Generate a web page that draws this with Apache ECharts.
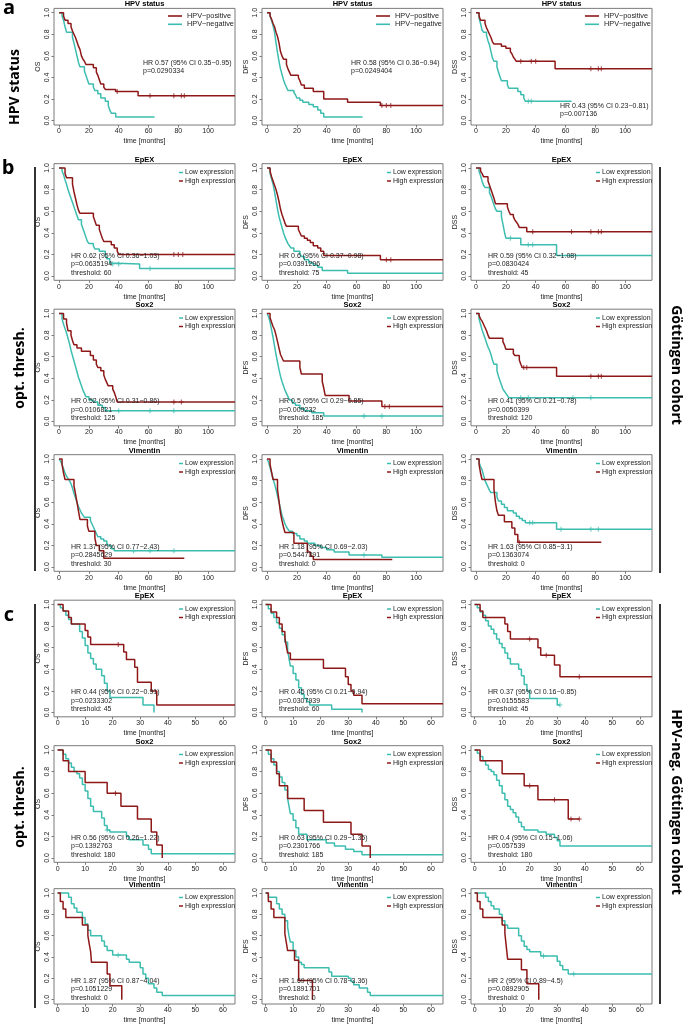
<!DOCTYPE html>
<html><head><meta charset="utf-8">
<script src="https://cdn.jsdelivr.net/npm/echarts@6/dist/echarts.min.js"></script>
<style>html,body{margin:0;padding:0;background:#fff}#c{width:685px;height:1025px}</style>
</head><body><div id="c"></div>
<script>
// ---------- tick labels / categories ----------
const xTicksLong = [0, 20, 40, 60, 80, 100];
const xTicksShort = [0, 10, 20, 30, 40, 50, 60];
const yTicks = [0, 0.2, 0.4, 0.6, 0.8, 1.0];
const endpoints = ['OS', 'DFS', 'DSS'];
const rowTitles = ['HPV status', 'EpEX', 'Sox2', 'Vimentin', 'EpEX', 'Sox2', 'Vimentin'];
const legendA = ['HPV\u2212positive', 'HPV\u2212negative'];
const legendExpr = ['Low expression', 'High expression'];

// ---------- a: HPV status (red = HPV-positive, teal = HPV-negative) ----------
const aOS_pos = [[0,1],[3,0.97],[4,0.93],[6,0.9],[8,0.87],[9,0.83],[10,0.8],[11,0.77],[12,0.73],[13,0.69],[14,0.66],[15,0.6],[16,0.57],[17,0.55],[18,0.52],[23,0.49],[25,0.45],[26,0.42],[27,0.38],[28,0.34],[30,0.31],[31,0.29],[38,0.27],[53,0.23],[118,0.23]];
const aOS_neg = [[0,1],[2,0.97],[3,0.93],[4,0.87],[5,0.82],[9,0.77],[10,0.72],[11,0.66],[12,0.6],[13,0.54],[14,0.5],[17,0.46],[18,0.42],[19,0.38],[20,0.34],[23,0.31],[24,0.28],[26,0.25],[28,0.21],[31,0.18],[33,0.14],[34,0.1],[35,0.07],[38,0.035],[64,0.035]];
const aDFS_pos = [[0,1],[2,0.97],[3,0.94],[4,0.9],[5,0.87],[6,0.82],[7,0.78],[8,0.72],[9,0.64],[10,0.6],[11,0.57],[13,0.52],[14,0.48],[15,0.45],[16,0.42],[21,0.4],[22,0.37],[23,0.33],[25,0.3],[31,0.27],[38,0.2],[54,0.17],[76,0.14],[118,0.14]];
const aDFS_neg = [[0,1],[2,0.97],[3,0.93],[4,0.88],[5,0.82],[6,0.72],[7,0.63],[8,0.55],[9,0.48],[10,0.43],[11,0.38],[12,0.34],[13,0.31],[14,0.28],[18,0.26],[19,0.24],[20,0.21],[22,0.19],[24,0.17],[28,0.15],[31,0.13],[34,0.1],[36,0.07],[38,0.035],[64,0.035]];
const aDSS_pos = [[0,1],[2,0.97],[3,0.93],[6,0.9],[7,0.86],[8,0.83],[9,0.8],[10,0.77],[11,0.73],[12,0.71],[17,0.69],[20,0.67],[23,0.64],[24,0.62],[25,0.59],[26,0.57],[27,0.55],[53,0.48],[118,0.48]];
const aDSS_neg = [[0,1],[2,0.95],[3,0.9],[4,0.84],[5,0.82],[7,0.79],[8,0.74],[9,0.7],[10,0.64],[11,0.58],[12,0.55],[14,0.5],[15,0.45],[16,0.41],[17,0.37],[21,0.33],[22,0.3],[28,0.27],[30,0.24],[32,0.21],[33,0.18],[64,0.18]];
const aOS_posCens = [39, 61, 77, 82, 84];
const aDFS_posCens = [77, 80, 83];
const aDSS_posCens = [30, 37, 40, 77, 82, 84];
const aDSS_negCens = [35, 37];

// ---------- b: Göttingen cohort, optimal thresholds (low = teal, high = red) ----------
const b1OS_low = [[0,1],[2,0.97],[3,0.94],[4,0.89],[5,0.85],[6,0.8],[7,0.76],[8,0.72],[9,0.68],[10,0.64],[11,0.6],[12,0.56],[13,0.52],[15,0.48],[16,0.44],[17,0.4],[18,0.36],[19,0.32],[20,0.3],[23,0.28],[24,0.25],[27,0.23],[31,0.2],[32,0.16],[34,0.12],[35,0.11],[54,0.07],[118,0.07]];
const b1OS_high = [[0,1],[4,0.95],[5,0.91],[9,0.85],[10,0.78],[11,0.72],[12,0.66],[13,0.61],[14,0.58],[23,0.55],[24,0.51],[25,0.47],[27,0.43],[28,0.39],[29,0.35],[30,0.32],[35,0.29],[37,0.26],[39,0.23],[40,0.2],[118,0.2]];
const b1DFS_low = [[0,1],[2,0.95],[3,0.9],[4,0.85],[5,0.78],[6,0.7],[7,0.62],[8,0.55],[9,0.5],[10,0.45],[11,0.4],[12,0.36],[13,0.33],[14,0.3],[15,0.28],[16,0.26],[18,0.23],[22,0.21],[23,0.18],[25,0.15],[28,0.12],[31,0.1],[34,0.08],[37,0.05],[54,0.025],[118,0.025]];
const b1DFS_high = [[0,1],[2,0.97],[3,0.92],[4,0.88],[5,0.84],[6,0.8],[7,0.75],[8,0.69],[9,0.62],[10,0.57],[11,0.53],[12,0.49],[13,0.46],[21,0.43],[22,0.4],[23,0.37],[25,0.35],[27,0.33],[29,0.31],[31,0.28],[34,0.26],[36,0.23],[38,0.19],[76,0.15],[118,0.15]];
const b1DSS_low = [[0,1],[2,0.97],[3,0.93],[4,0.88],[5,0.84],[6,0.82],[9,0.77],[10,0.74],[11,0.7],[12,0.66],[13,0.62],[14,0.6],[17,0.55],[18,0.48],[19,0.41],[20,0.35],[30,0.29],[54,0.19],[118,0.19]];
const b1DSS_high = [[0,1],[3,0.97],[4,0.95],[5,0.92],[8,0.88],[9,0.84],[10,0.8],[11,0.76],[12,0.72],[13,0.67],[21,0.64],[22,0.6],[23,0.57],[25,0.55],[26,0.52],[27,0.5],[28,0.48],[29,0.45],[34,0.41],[118,0.41]];
const b1OS_lowCens = [36, 40, 61];
const b1OS_highCens = [77, 80, 83];
const b1DFS_highCens = [80, 83];
const b1DSS_lowCens = [23, 35, 38];
const b1DSS_highCens = [38, 64, 77, 82, 84];

const b2OS_low = [[0,1],[2,0.95],[3,0.9],[4,0.86],[5,0.82],[6,0.77],[7,0.72],[8,0.66],[9,0.61],[10,0.56],[11,0.51],[12,0.46],[13,0.41],[14,0.37],[15,0.33],[16,0.29],[17,0.26],[18,0.23],[20,0.2],[23,0.18],[26,0.15],[29,0.13],[31,0.1],[118,0.1]];
const b2OS_high = [[0,1],[3,0.95],[5,0.91],[6,0.84],[8,0.8],[9,0.75],[10,0.71],[12,0.68],[15,0.65],[21,0.61],[23,0.57],[25,0.53],[26,0.5],[28,0.47],[30,0.43],[31,0.39],[32,0.36],[33,0.33],[36,0.3],[37,0.27],[38,0.23],[39,0.18],[118,0.18]];
const b2DFS_low = [[0,1],[1,0.97],[2,0.92],[3,0.85],[4,0.78],[5,0.7],[6,0.62],[7,0.55],[8,0.48],[9,0.42],[10,0.37],[11,0.33],[12,0.29],[13,0.26],[14,0.23],[15,0.2],[17,0.17],[19,0.15],[22,0.12],[25,0.1],[30,0.08],[38,0.05],[118,0.05]];
const b2DFS_high = [[0,1],[2,0.96],[3,0.92],[4,0.88],[5,0.85],[6,0.8],[7,0.74],[8,0.68],[9,0.62],[10,0.59],[11,0.56],[22,0.5],[23,0.44],[37,0.37],[38,0.31],[39,0.24],[55,0.19],[77,0.14],[118,0.14]];
const b2DSS_low = [[0,1],[2,0.95],[3,0.9],[4,0.85],[5,0.81],[6,0.77],[7,0.73],[8,0.69],[9,0.66],[10,0.62],[11,0.57],[12,0.53],[14,0.47],[15,0.42],[16,0.38],[17,0.34],[18,0.3],[19,0.28],[20,0.26],[21,0.24],[22,0.22],[118,0.22]];
const b2DSS_high = [[0,1],[2,0.98],[3,0.95],[4,0.93],[5,0.9],[6,0.87],[7,0.84],[8,0.8],[9,0.77],[18,0.74],[19,0.71],[20,0.67],[25,0.63],[26,0.61],[29,0.57],[30,0.53],[31,0.5],[54,0.42],[118,0.42]];
const b2OS_lowCens = [40, 61, 77];
const b2OS_highCens = [77, 82];
const b2DFS_lowCens = [65, 77];
const b2DFS_highCens = [79, 82];
const b2DSS_lowCens = [30, 35, 65, 77];
const b2DSS_highCens = [32, 34, 77, 82, 84];

const b3OS_low = [[0,1],[1,0.98],[2,0.95],[3,0.91],[4,0.87],[5,0.84],[6,0.82],[7,0.8],[8,0.77],[9,0.73],[10,0.68],[11,0.64],[12,0.6],[13,0.56],[14,0.53],[15,0.5],[16,0.48],[17,0.46],[21,0.43],[22,0.4],[23,0.37],[24,0.34],[25,0.31],[26,0.28],[28,0.26],[30,0.24],[32,0.22],[33,0.2],[35,0.17],[37,0.15],[118,0.15]];
const b3OS_high = [[0,1],[2,0.95],[3,0.87],[4,0.81],[10,0.75],[11,0.68],[12,0.6],[13,0.52],[14,0.44],[19,0.38],[20,0.33],[24,0.27],[25,0.2],[27,0.15],[30,0.08],[84,0.08]];
const b3DFS_low = [[0,1],[1,0.97],[2,0.92],[3,0.87],[4,0.82],[5,0.77],[6,0.72],[7,0.66],[8,0.6],[9,0.54],[10,0.48],[11,0.44],[12,0.4],[13,0.37],[14,0.35],[15,0.33],[17,0.31],[20,0.29],[22,0.26],[25,0.24],[27,0.22],[32,0.2],[36,0.18],[40,0.16],[45,0.14],[55,0.11],[77,0.09],[118,0.09]];
const b3DFS_high = [[0,1],[2,0.95],[3,0.88],[4,0.81],[7,0.72],[8,0.61],[9,0.5],[10,0.43],[11,0.37],[12,0.32],[18,0.22],[27,0.14],[29,0.1],[31,0.07],[84,0.07]];
const b3DSS_low = [[0,1],[2,0.97],[3,0.93],[4,0.9],[5,0.85],[6,0.8],[7,0.77],[8,0.74],[9,0.71],[10,0.69],[14,0.65],[15,0.61],[17,0.58],[19,0.55],[21,0.52],[25,0.5],[27,0.47],[29,0.45],[31,0.43],[33,0.41],[54,0.35],[118,0.35]];
const b3DSS_high = [[0,1],[2,0.95],[3,0.87],[4,0.81],[12,0.72],[13,0.6],[14,0.52],[15,0.48],[19,0.42],[24,0.36],[26,0.3],[28,0.23],[84,0.23]];
const b3OS_lowCens = [50, 61, 77];
const b3DFS_lowCens = [65];
const b3DSS_lowCens = [36, 38, 57, 77, 82];
const b3DSS_highCens = [29];

// ---------- c: HPV-negative Göttingen cohort, optimal thresholds ----------
const c1OS_low = [[0,1],[1,0.97],[2,0.94],[3,0.9],[4,0.86],[5,0.82],[8,0.75],[9,0.69],[10,0.62],[11,0.55],[12,0.5],[13,0.45],[14,0.4],[16,0.34],[17,0.27],[18,0.2],[19,0.14],[31,0.07],[35,0]];
const c1OS_high = [[0,1],[2,0.94],[4,0.88],[5,0.82],[10,0.76],[11,0.7],[12,0.63],[24,0.56],[25,0.49],[28,0.42],[29,0.28],[34,0.2],[36,0.07],[64.4,0.07]];
const c1DFS_low = [[0,1],[1,0.96],[2,0.92],[3,0.88],[4,0.83],[5,0.78],[6,0.72],[7,0.65],[8,0.58],[8.5,0.5],[9,0.43],[10,0.36],[11,0.3],[12,0.23],[13,0.17],[14,0.13],[15,0.1],[16,0.07],[24,0.03],[35,0]];
const c1DFS_high = [[0,1],[2,0.93],[4,0.88],[5,0.82],[6,0.75],[7,0.69],[7.5,0.62],[8,0.55],[9,0.49],[21,0.41],[29,0.33],[30,0.26],[31,0.2],[32,0.16],[35,0.08],[64.4,0.08]];
const c1DSS_low = [[0,1],[1,0.97],[2,0.93],[3,0.9],[4,0.85],[5,0.8],[6,0.77],[7,0.73],[8,0.68],[9,0.64],[10,0.6],[11,0.55],[12,0.5],[13,0.45],[16,0.4],[17,0.34],[18,0.26],[19,0.2],[20,0.13],[30,0.07],[31,0.07]];
const c1DSS_high = [[0,1],[2,0.94],[3,0.88],[11,0.82],[12,0.75],[13,0.68],[23,0.6],[24,0.53],[29,0.44],[31,0.33],[64.4,0.33]];
const c1OS_highCens = [22];
const c1DSS_lowCens = [31];
const c1DSS_highCens = [20, 26, 38];

const c2OS_low = [[0,1],[2,0.96],[3,0.92],[4,0.88],[5,0.84],[6,0.8],[7,0.78],[8,0.74],[9,0.68],[10,0.62],[11,0.55],[12,0.48],[13,0.43],[16,0.37],[17,0.3],[18,0.26],[19,0.24],[25,0.2],[26,0.17],[31,0.12],[33,0.08],[34,0.04],[64.4,0.04]];
const c2OS_high = [[0,1],[2,0.9],[4,0.8],[10,0.7],[18,0.6],[23,0.48],[29,0.36],[34,0.24],[36,0.12],[38,0]];
const c2DFS_low = [[0,1],[1,0.96],[2,0.92],[3,0.86],[4,0.8],[5,0.75],[6,0.7],[7,0.63],[8,0.55],[8.5,0.48],[9,0.41],[10,0.35],[11,0.28],[12,0.22],[15,0.17],[22,0.14],[25,0.11],[29,0.08],[32,0.06],[35,0.03],[64.4,0.03]];
const c2DFS_high = [[0,1],[2,0.89],[4,0.78],[5,0.67],[8,0.55],[14,0.44],[21,0.33],[31,0.22],[35,0.11],[38,0]];
const c2DSS_low = [[0,1],[1,0.97],[2,0.94],[3,0.9],[4,0.86],[5,0.82],[6,0.8],[7,0.77],[8,0.72],[9,0.67],[10,0.6],[11,0.54],[12,0.48],[13,0.45],[14,0.42],[15,0.38],[16,0.33],[17,0.29],[18,0.26],[23,0.24],[26,0.22],[29,0.19],[30,0.16],[31,0.11],[64.4,0.11]];
const c2DSS_high = [[0,1],[2,0.9],[10,0.78],[18,0.67],[23,0.54],[34,0.36],[38,0.36]];
const c2OS_lowCens = [18];
const c2OS_highCens = [21];
const c2DSS_highCens = [20, 29, 35, 38];

const c3OS_low = [[0,1],[4,0.96],[5,0.9],[6,0.86],[7,0.82],[9,0.77],[10,0.71],[11,0.65],[12,0.6],[16,0.55],[17,0.5],[18,0.46],[20,0.42],[25,0.38],[26,0.35],[30,0.3],[31,0.24],[32,0.2],[33,0.15],[35,0.11],[36,0.07],[38,0.04],[64.4,0.04]];
const c3OS_high = [[0,1],[1,0.92],[2,0.85],[3,0.77],[9,0.7],[11,0.6],[11.5,0.52],[12,0.45],[12.3,0.35],[18,0.24],[19,0.13],[23.3,0]];
const c3DFS_low = [[0,1],[1,0.96],[4,0.9],[5,0.85],[6,0.8],[7,0.74],[8,0.68],[8.5,0.6],[9,0.54],[10,0.46],[11,0.4],[12,0.35],[13,0.33],[14,0.3],[23,0.26],[24,0.22],[30,0.2],[31,0.17],[32,0.14],[34,0.11],[37,0.07],[38,0.04],[64.4,0.04]];
const c3DFS_high = [[0,1],[1,0.92],[2,0.85],[3,0.77],[7,0.62],[7.5,0.54],[8,0.46],[10.5,0.37],[12,0.18],[17,0]];
const c3DSS_low = [[0,1],[4,0.96],[5,0.92],[6,0.88],[7,0.85],[9,0.8],[10,0.74],[11,0.7],[12,0.67],[16,0.6],[17,0.55],[18,0.5],[19,0.47],[20,0.45],[24,0.41],[30,0.36],[31,0.32],[32,0.28],[34,0.24],[64.4,0.24]];
const c3DSS_high = [[0,1],[1,0.92],[2,0.85],[3,0.77],[10,0.7],[11,0.62],[11.5,0.5],[12,0.38],[17,0.28],[19,0.15],[23.3,0]];
const c3OS_lowCens = [22];
const c3DSS_lowCens = [25, 36];

// ---------- statistics text ----------
const hrA = [['HR 0.57 (95% CI 0.35\u22120.95)','p=0.0290334'],['HR 0.58 (95% CI 0.36\u22120.94)','p=0.0249404'],['HR 0.43 (95% CI 0.23\u22120.81)','p=0.007136']];
const hrB1 = [['HR 0.62 (95% CI 0.36\u22121.03)','p=0.0635194','threshold: 60'],['HR 0.6 (95% CI 0.37\u22120.98)','p=0.0391296','threshold: 75'],['HR 0.59 (95% CI 0.32\u22121.08)','p=0.0830424','threshold: 45']];
const hrB2 = [['HR 0.52 (95% CI 0.31\u22120.86)','p=0.0106821','threshold: 125'],['HR 0.5 (95% CI 0.29\u22120.85)','p=0.009232','threshold: 185'],['HR 0.41 (95% CI 0.21\u22120.78)','p=0.0050399','threshold: 120']];
const hrB3 = [['HR 1.37 (95% CI 0.77\u22122.43)','p=0.2845629','threshold: 30'],['HR 1.18 (95% CI 0.69\u22122.03)','p=0.5447391','threshold: 0'],['HR 1.63 (95% CI 0.85\u22123.1)','p=0.1363074','threshold: 0']];
const hrC1 = [['HR 0.44 (95% CI 0.22\u22120.91)','p=0.0233302','threshold: 45'],['HR 0.45 (95% CI 0.21\u22120.94)','p=0.0307939','threshold: 60'],['HR 0.37 (95% CI 0.16\u22120.85)','p=0.0155583','threshold: 45']];
const hrC2 = [['HR 0.56 (95% CI 0.26\u22121.22)','p=0.1392763','threshold: 180'],['HR 0.63 (95% CI 0.29\u22121.35)','p=0.2301766','threshold: 185'],['HR 0.4 (95% CI 0.15\u22121.06)','p=0.057539','threshold: 180']];
const hrC3 = [['HR 1.87 (95% CI 0.87\u22124.04)','p=0.1051229','threshold: 0'],['HR 1.69 (95% CI 0.78\u22123.36)','p=0.1891701','threshold: 0'],['HR 2 (95% CI 0.89\u22124.5)','p=0.0892905','threshold: 0']];

// ---------- assemble panels (row-major) ----------
const rowsData = [
  {teal:[aOS_neg,aDFS_neg,aDSS_neg], red:[aOS_pos,aDFS_pos,aDSS_pos], tealC:[[],[],aDSS_negCens], redC:[aOS_posCens,aDFS_posCens,aDSS_posCens], hr:hrA},
  {teal:[b1OS_low,b1DFS_low,b1DSS_low], red:[b1OS_high,b1DFS_high,b1DSS_high], tealC:[b1OS_lowCens,[],b1DSS_lowCens], redC:[b1OS_highCens,b1DFS_highCens,b1DSS_highCens], hr:hrB1},
  {teal:[b2OS_low,b2DFS_low,b2DSS_low], red:[b2OS_high,b2DFS_high,b2DSS_high], tealC:[b2OS_lowCens,b2DFS_lowCens,b2DSS_lowCens], redC:[b2OS_highCens,b2DFS_highCens,b2DSS_highCens], hr:hrB2},
  {teal:[b3OS_low,b3DFS_low,b3DSS_low], red:[b3OS_high,b3DFS_high,b3DSS_high], tealC:[b3OS_lowCens,b3DFS_lowCens,b3DSS_lowCens], redC:[[],[],b3DSS_highCens], hr:hrB3},
  {teal:[c1OS_low,c1DFS_low,c1DSS_low], red:[c1OS_high,c1DFS_high,c1DSS_high], tealC:[[],[],c1DSS_lowCens], redC:[c1OS_highCens,[],c1DSS_highCens], hr:hrC1},
  {teal:[c2OS_low,c2DFS_low,c2DSS_low], red:[c2OS_high,c2DFS_high,c2DSS_high], tealC:[c2OS_lowCens,[],[]], redC:[c2OS_highCens,[],c2DSS_highCens], hr:hrC2},
  {teal:[c3OS_low,c3DFS_low,c3DSS_low], red:[c3OS_high,c3DFS_high,c3DSS_high], tealC:[c3OS_lowCens,[],c3DSS_lowCens], redC:[[],[],[]], hr:hrC3}
];

// ---------- layout ----------
const RED = '#8e1818', TEAL = '#3dbdb0', BOX = '#7a7a7a', TXT = '#222';
const FONT = '"Liberation Sans", Arial, sans-serif';
const colL = [54, 262, 471], boxW = 181;
const rowY1 = [12.7, 168, 313.5, 459, 604.5, 750, 893];
const span = 108, pad = 0.04;
const xRangeLong = [-3.4, 118], xRangeShort = [-1.3, 64.4];

function survAt(curve, t) {
  let v = curve[0][1];
  for (const p of curve) { if (p[0] <= t) v = p[1]; else break; }
  return v;
}
const plusPath = 'path://M4,0L6,0L6,4L10,4L10,6L6,6L6,10L4,10L4,6L0,6L0,4L4,4Z';

const grids = [], xAxes = [], yAxes = [], series = [], graphics = [];
function txt(x, y, text, size, opts) {
  opts = opts || {};
  graphics.push({type:'text', x:x, y:y, rotation: opts.rot || 0, silent:true, z:10,
    style:{text:text, fontSize:size, fontFamily: opts.family || FONT, fontWeight: opts.bold ? 'bold' : 'normal',
      fill: opts.color || TXT, align: opts.align || 'left', verticalAlign: 'middle'}});
}
function line(x1, y1, x2, y2, color, w) {
  graphics.push({type:'line', silent:true, z:10, shape:{x1:x1,y1:y1,x2:x2,y2:y2}, style:{stroke:color, lineWidth:w}});
}

let gi = 0;
for (let r = 0; r < 7; r++) {
  const rd = rowsData[r];
  const long = r < 4;
  const xr = long ? xRangeLong : xRangeShort;
  const xt = long ? xTicksLong : xTicksShort;
  const y1 = rowY1[r], y0 = y1 + span;
  const top = y1 - pad * span, h = (1 + 2 * pad) * span;
  for (let c = 0; c < 3; c++) {
    const L = colL[c], R = L + boxW;
    grids.push({left:L, top:top, width:boxW, height:h, show:true, borderColor:BOX, borderWidth:1, backgroundColor:'transparent'});
    xAxes.push({gridIndex:gi, type:'value', min:xr[0], max:xr[1],
      axisLine:{show:false, onZero:false},
      axisTick:{show:true, length:2.5, customValues:xt, lineStyle:{color:BOX, width:1}},
      axisLabel:{customValues:xt, fontSize:7, margin:3, color:TXT, fontFamily:FONT},
      splitLine:{show:false},
      name:'time [months]', nameLocation:'middle', nameGap:13,
      nameTextStyle:{fontSize:7, color:TXT, fontFamily:FONT}});
    yAxes.push({gridIndex:gi, type:'value', min:-pad, max:1 + pad,
      axisLine:{show:false, onZero:false},
      axisTick:{show:true, length:2.5, customValues:yTicks, lineStyle:{color:BOX, width:1}},
      axisLabel:{customValues:yTicks, rotate:90, fontSize:7, margin:3, color:TXT, fontFamily:FONT,
        formatter: v => Number(v).toFixed(1)},
      splitLine:{show:false},
      name:endpoints[c], nameLocation:'middle', nameGap:12,
      nameTextStyle:{fontSize:7, color:TXT, fontFamily:FONT}});
    const pairs = [[rd.teal[c], TEAL, rd.tealC[c]], [rd.red[c], RED, rd.redC[c]]];
    for (const [curve, col, cens] of pairs) {
      series.push({type:'line', xAxisIndex:gi, yAxisIndex:gi, data:curve, step:'end', showSymbol:false, symbol:'none',
        silent:true, animation:false, lineStyle:{color:col, width:1.5}, z:3});
      if (cens && cens.length) {
        series.push({type:'scatter', xAxisIndex:gi, yAxisIndex:gi, data:cens.map(t => [t, survAt(curve, t)]),
          symbol:plusPath, symbolSize:5, silent:true, animation:false, itemStyle:{color:col}, z:4});
      }
    }
    // panel title
    txt(L + boxW / 2, top - 4, rowTitles[r], 7.5, {bold:true, align:'center', color:'#000'});
    // legend
    if (r === 0) {
      line(R - 67, y1 + 3.3, R - 53, y1 + 3.3, RED, 1.6);
      line(R - 67, y1 + 11.6, R - 53, y1 + 11.6, TEAL, 1.6);
      txt(R - 48, y1 + 3.3, legendA[0], 7.3);
      txt(R - 48, y1 + 11.6, legendA[1], 7.3);
    } else {
      line(R - 56, y1 + 4.5, R - 52, y1 + 4.5, TEAL, 1.5);
      line(R - 56, y1 + 13, R - 52, y1 + 13, RED, 1.5);
      txt(R - 50, y1 + 4.5, legendExpr[0], 7);
      txt(R - 50, y1 + 13, legendExpr[1], 7);
    }
    // statistics
    const hr = rd.hr[c];
    if (r === 0) {
      if (c < 2) { txt(L + 89, y1 + 50, hr[0], 7); txt(L + 89, y1 + 58.3, hr[1], 7); }
      else { txt(L + 89, y0 - 15, hr[0], 7); txt(L + 89, y0 - 6.5, hr[1], 7); }
    } else {
      txt(L + 17, y0 - 20, hr[0], 7);
      txt(L + 17, y0 - 11.7, hr[1], 7);
      txt(L + 17, y0 - 3.4, hr[2], 7);
    }
    gi++;
  }
}

// ---------- panel letters, side labels, brackets ----------
const SIDE = '"Open Sans", "DejaVu Sans", sans-serif';
txt(9, 8, 'a', 20, {bold:true, family:SIDE, align:'center', color:'#000'});
txt(8, 168, 'b', 20, {bold:true, family:SIDE, align:'center', color:'#000'});
txt(9, 615, 'c', 20, {bold:true, family:SIDE, align:'center', color:'#000'});
txt(15, 87, 'HPV status', 14, {bold:true, family:SIDE, align:'center', rot:Math.PI/2, color:'#000'});
txt(20, 368, 'opt. thresh.', 14, {bold:true, family:SIDE, align:'center', rot:Math.PI/2, color:'#000'});
txt(20, 807, 'opt. thresh.', 14, {bold:true, family:SIDE, align:'center', rot:Math.PI/2, color:'#000'});
txt(676, 365, 'G\u00f6ttingen cohort', 14, {bold:true, family:SIDE, align:'center', rot:-Math.PI/2, color:'#000'});
txt(676, 802, 'HPV-neg. G\u00f6ttingen cohort', 14, {bold:true, family:SIDE, align:'center', rot:-Math.PI/2, color:'#000'});
line(35, 167, 35, 571, '#333', 2);
line(35, 604, 35, 1008, '#333', 2);
line(660, 167, 660, 573, '#333', 2);
line(660, 604, 660, 1004, '#333', 2);

const chart = echarts.init(document.getElementById('c'), null, {renderer:'canvas'});
chart.setOption({
  animation:false,
  backgroundColor:'#fff',
  grid:grids, xAxis:xAxes, yAxis:yAxes, series:series, graphic:graphics
});
</script></body></html>
